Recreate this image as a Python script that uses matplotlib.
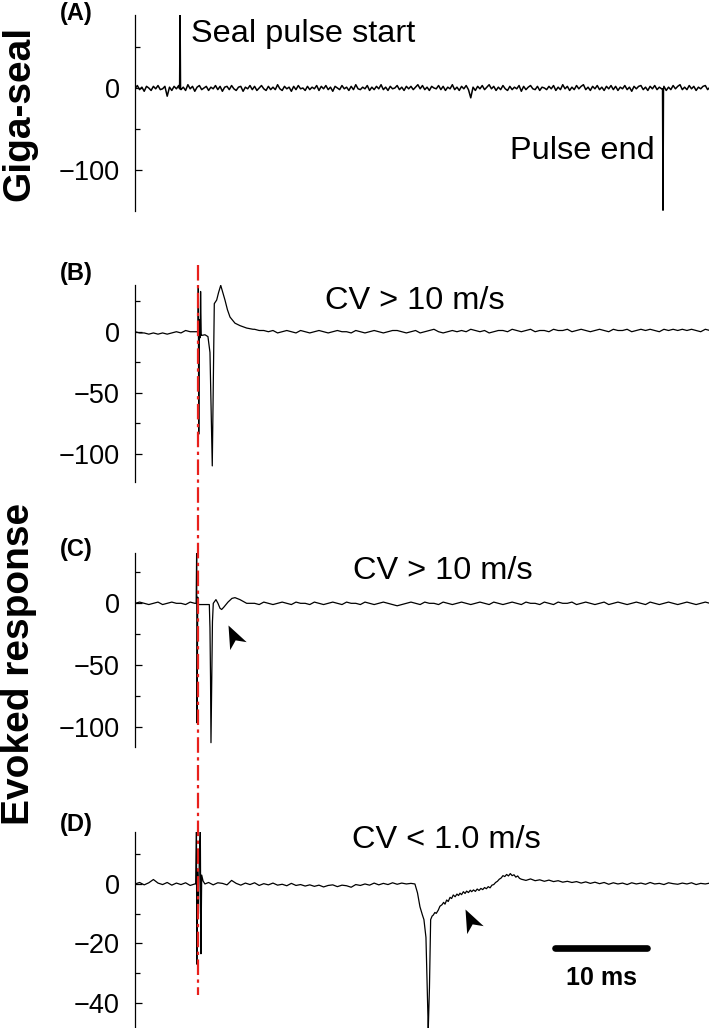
import numpy as np
import matplotlib
matplotlib.use('Agg')
import matplotlib.pyplot as plt
from matplotlib.lines import Line2D
from matplotlib.path import Path
from matplotlib.markers import MarkerStyle
from matplotlib.transforms import Affine2D, blended_transform_factory

plt.rcParams['font.family'] = ['Liberation Sans', 'DejaVu Sans']

nan = np.nan

# ---------------------------------------------------------------------
# Traces: baseline samples on a regular grid (nan = covered by event
# points) plus hand-read event points (time ms, amplitude)
# ---------------------------------------------------------------------
a_step = 0.25
a_base = [-1, 3, -2, 1, -4, 2, 0, -3, 2, -1, 3, -2, -1, 2, -10, 1, -3, 2, -1, 3,
          -2, 1, -3, 4, -1, 2, -4, 1, 3, -2, 0, 2, -3, 1, -1, 3, -2, 2, -4, 1,
          2, -2, 3, -1, -3, 1, 2, -4, 1, -1, 3, -2, 2, -3, 0, 3, -1, -3, 2, -2,
          1, -2, 4, -1, -3, 2, -1, 1, -4, 2, -2, 3, -1, 0, -3, 2, -2, 1, -1, 3,
          -3, 2, -1, 3, -2, 1, -4, 2, 0, -2, 3, -1, 1, -3, 2, -2, 4, -1, -2, 1,
          -1, 3, -3, 1, -2, 2, -1, 4, -2, 1, -3, 2, -1, 0, 3, -2, 1, -3, 2, -1,
          2, -2, 1, 4, -1, 3, -2, 1, -3, 2, 0, -1, 3, -2, 2, -3, 1, -1, 4, -2,
          1, -3, 2, -1, 3, -2, -12, 1, -3, 2, -1, 3, -2, 1, 4, -1, 2, -3, 1, -2,
          3, -1, -3, 2, -2, 1, -1, 3, -4, 2, -2, 1, 3, -1, -2, 2, -3, 1, 0, -2,
          2, -1, 3, -3, 1, -2, 4, -1, 2, -3, 1, -2, 3, -1, 2, 4, -2, 1, -3, 2,
          -1, 3, -2, 1, -3, 2, -1, 3, -2, 2, -3, 1, -1, 3, -2, 1, -4, 2, -1, 2,
          3, -2, 1, -3, 2, -1, 3, -2, 1, -1, 2, -3, 1, -2, 3, -1, 2, 4, -2, 1,
          -2, 3, -1, 2, -3, 1, -1, 2, 3, -2, 1]
a_event_t = [4.85, 4.9, 4.95, 57.35, 57.4, 57.45]
a_event_v = [-1, 89, -1, -1, -149, -1]

bcd_step = 0.5
b_base = [0, -1, -1, -2, -1, -2, -1, -2, -1, 0,
          -1, 1, 0, 0, nan, nan, nan, nan, nan, nan,
          nan, nan, nan, nan, nan, nan, 2, 1, 1, 0,
          1, -1, 0, 1, 0, -1, 1, 0, -1, 0,
          1, 0, -1, 0, 1, 0, 0, -1, 1, 0,
          -1, 0, 1, 0, -1, 0, 1, 1, 0, -1,
          0, 1, -1, 0, 1, 2, 0, -1, 0, 1,
          0, 1, 0, 2, 1, 0, 1, -1, 0, 1,
          1, 0, 2, 1, 0, 1, 2, 0, 1, 1,
          0, 2, 1, 1, 2, 0, 1, 2, 1, 0,
          1, 2, 1, 0, 2, 1, 1, 2, 0, 1,
          2, 1, 2, 1, 0, 2, 1, 2, 1, 2,
          1, 2, 1, 0, 2, 1]
b_event_t = [6.79, 6.85, 6.88, 6.93, 7.0, 7.08, 7.13, 7.2, 7.25, 7.61, 7.93,
             8.15, 8.26, 8.40, 8.51, 8.62, 8.88, 9.08, 9.32, 9.51, 9.78,
             10.05, 10.33, 10.87, 11.41, 12.14, 12.83]
b_event_v = [0, 0, 38, -84, 10, -5, 33, -3, -3, -2.5, -4,
             -17, -58, -110, -40, 23, 26, 32, 38, 33, 26,
             18, 12, 7, 5, 3, 2]

c_base = [0, 1, 0, -1, 0, 1, -1, 0, 1, 0,
          0, -1, 1, 0, nan, nan, nan, nan, nan, nan,
          nan, nan, nan, nan, nan, 0, 0, -1, 1, 0,
          -1, 0, 1, 0, -1, 1, 0, 0, -1, 1,
          0, -1, 0, 1, 0, -1, 1, 0, 0, -1,
          1, 0, -1, 0, 1, 0, -1, -2, -1, 0,
          1, 0, -1, 1, 0, 0, -1, 1, 0, -1,
          0, 1, 0, -1, 0, 1, 0, -1, 1, 0,
          -1, 0, 1, 0, -1, 1, 0, 0, -1, 1,
          0, -1, 1, 0, 0, 1, -1, 0, 1, 0,
          -1, 0, 1, -1, 0, 1, 0, -1, 0, 1,
          0, -1, 1, 0, -1, 0, 1, 0, -1, 0,
          1, 0, -1, 0, 1, 0]
c_event_t = [6.65, 6.70, 6.75, 6.82, 6.9, 8.08, 8.15, 8.21, 8.26, 8.35, 8.42,
             8.51, 8.80, 9.02, 9.24, 9.42, 9.67, 10.11, 10.54, 10.87, 11.41,
             12.14]
c_event_v = [0, 41, -97, 5, -1, -1, -20, -60, -113, -60, -15,
             0, 3, 0, -4, -5, -3, 1, 4, 4.6, 3,
             0]

d_base = [0, 0.5, -0.3, 0.4, 1.5, 0.3, -0.2, 0.5, -0.4, 0.3,
          -0.2, 0.4, -0.5, 0.0, nan, nan, 0.5, -0.3, 0.4, 0.2,
          -0.3, 1.2, 0.2, -0.4, 0.3, -0.2, 0.4, -0.5, 0.1, -0.3,
          0.3, -0.4, -0.1, -0.6, 0.2, -0.5, -0.2, -0.7, -0.3, -0.8,
          -0.4, -1.0, -0.5, -0.3, -0.9, -0.4, -0.6, -1.1, -0.2, -0.5,
          0.0, -0.4, 0.3, -0.3, 0.2, -0.2, 0.4, -0.1, 0.3, 0.0,
          0.2, nan, nan, nan, nan, nan, nan, nan, nan, nan,
          nan, nan, nan, nan, nan, nan, nan, nan, nan, nan,
          nan, nan, nan, nan, 1.6, 1.2, 1.7, 1.1, 1.4, 0.9,
          1.3, 0.8, 1.1, 0.6, 0.9, 0.5, 0.8, 0.3, 0.7, 0.2,
          0.6, 0.1, 0.5, -0.1, 0.4, 0.0, 0.3, -0.2, 0.4, 0.0,
          0.3, -0.1, 0.5, 0.0, 0.2, -0.2, 0.4, 0.1, -0.1, 0.3,
          0.0, 0.4, -0.2, 0.2, 0.0, 0.3]
d_event_t = [6.6, 6.68, 6.72, 6.8, 6.9, 7.0, 7.1, 7.17, 7.25, 7.4, 7.6,
             30.43, 30.71, 30.98, 31.25, 31.41, 31.63, 31.77, 31.88, 32.01,
             32.14, 32.3, 32.42, 32.6, 32.75, 32.97, 33.15, 33.37, 33.55,
             33.7, 33.88, 34.05, 34.25, 34.42, 34.6, 34.8, 35.0, 35.17,
             35.33, 35.5, 35.7, 35.88, 36.05, 36.25, 36.45, 36.6, 36.8,
             37.0, 37.2, 37.4, 37.6, 37.8, 38.0, 38.2, 38.4, 38.6, 38.8,
             39.0, 39.2, 39.4, 39.6, 39.8, 40.0, 40.2, 40.4, 40.6, 40.8,
             41.0, 41.2, 41.4, 41.6, 41.8]
d_event_v = [0, 18, -27, 5, -10, 10, 18, -23.5, 3, 1, 0,
             0, -3, -7.7, -10.5, -12, -18, -35, -49, -35,
             -12, -10.8, -10.5, -9.6, -9.9, -8.8, -7.5, -7.0, -6.2,
             -6.8, -5.4, -5.9, -4.5, -4.9, -3.7, -4.3, -3.4, -3.9,
             -3.1, -3.6, -2.6, -3.2, -2.4, -2.9, -2.1, -2.6, -2.0,
             -2.5, -1.7, -2.2, -1.5, -1.9, -1.2, -1.6, -0.9, -1.3, -0.4,
             -0.2, 0.5, 0.9, 1.6, 2.0, 2.8, 2.5, 3.2, 2.7, 3.5,
             2.8, 3.1, 2.3, 2.7, 1.9]

panel_labels = ['(A)', '(B)', '(C)', '(D)']
panel_notes = ['', 'CV > 10 m/s', 'CV > 10 m/s', 'CV < 1.0 m/s']
stim_time = 6.87  # ms, red dash-dot marker of stimulus


def build_trace(base, step, ev_t, ev_v):
    t = np.arange(len(base)) * step
    v = np.array(base, dtype=float)
    keep = ~np.isnan(v)
    t_all = np.concatenate([t[keep], ev_t])
    v_all = np.concatenate([v[keep], ev_v])
    order = np.argsort(t_all, kind='stable')
    return t_all[order], v_all[order]


W, H = 709, 1028


def fx(x):
    return x / W


def fy(y):
    return 1 - y / H


fig = plt.figure(figsize=(W / 100, H / 100), dpi=100)

# axes boxes in pixels: (top, bottom)
boxes = [(15, 211), (285, 482), (553, 747), (831.7, 1028)]
ylims = [(-150, 89), (-123.2, 38.3), (-116.5, 40.8), (-48.5, 17.6)]
major = [[-100, 0], [-100, -50, 0], [-100, -50, 0], [-40, -20, 0]]
minor = [[-50, 50], [-75, -25, 25], [-75, -25, 25], [-30, -10, 10]]
widths = [1.1, 0.9, 0.9, 0.9]
traces = [build_trace(a_base, a_step, a_event_t, a_event_v),
          build_trace(b_base, bcd_step, b_event_t, b_event_v),
          build_trace(c_base, bcd_step, c_event_t, c_event_v),
          build_trace(d_base, bcd_step, d_event_t, d_event_v)]

axes = []
for i in range(4):
    top, bot = boxes[i]
    ax = fig.add_axes([fx(135), fy(bot), 1 - fx(135), (bot - top) / H])
    t, v = traces[i]
    ax.plot(t, v, color='black', lw=widths[i])
    ax.set_xlim(0, 62.4)
    ax.set_ylim(*ylims[i])
    for s in ['top', 'right', 'bottom']:
        ax.spines[s].set_visible(False)
    ax.spines['left'].set_linewidth(0.9)
    ax.set_xticks([])
    ax.set_yticks(major[i])
    ax.set_yticks(minor[i], minor=True)
    ax.tick_params(axis='y', which='major', direction='in', length=5,
                   width=0.9, labelsize=19.5, pad=11)
    ax.tick_params(axis='y', which='minor', direction='in', length=3.5,
                   width=0.9)
    axes.append(ax)

# panel labels and notes
label_base = [20, 280, 556, 831]
for i in range(4):
    fig.text(fx(60), fy(label_base[i]), panel_labels[i], fontsize=17,
             fontweight='bold', va='baseline', ha='left')
note_pos = [None, (325, 309), (353, 579), (352, 848)]
for i in range(1, 4):
    x, y = note_pos[i]
    fig.text(fx(x), fy(y), panel_notes[i], fontsize=23.4, va='baseline',
             ha='left')
fig.text(fx(191), fy(42), 'Seal pulse start', fontsize=23.4, va='baseline')
fig.text(fx(655), fy(159.3), 'Pulse end', fontsize=23.4, va='baseline',
         ha='right')

fig.text(fx(19), fy(113), 'Giga-seal', fontsize=28, fontweight='bold',
         rotation=90, ha='center', va='center')
fig.text(fx(19), fy(664), 'Evoked response', fontsize=28, fontweight='bold',
         rotation=90, ha='center', va='center')

# red stimulus line spanning panels B-D
tr = blended_transform_factory(axes[3].transData, fig.transFigure)
fig.add_artist(Line2D([stim_time, stim_time], [fy(265), fy(995)],
                      transform=tr, color='#e8201c', lw=1.6,
                      linestyle=(0, (7, 2, 1.5, 2))))

# arrowheads
head = Path([(0, 0), (-1, 0.4), (-0.72, 0), (-1, -0.4), (0, 0)],
            [Path.MOVETO, Path.LINETO, Path.LINETO, Path.LINETO,
             Path.CLOSEPOLY])
arrow = MarkerStyle(head, transform=Affine2D().rotate_deg(115.7))
axes[2].plot([10.14], [-17.6], marker=arrow, ms=33, color='black',
             mec='none', clip_on=False)
axes[3].plot([35.87], [-8.5], marker=arrow, ms=33, color='black',
             mec='none', clip_on=False)

# 10 ms scale bar
axes[3].plot([45.65, 55.65], [-21.4, -21.4], color='black', lw=4.8,
             solid_capstyle='round')
fig.text(fx(601), fy(985), '10 ms', fontsize=18, fontweight='bold',
         ha='center', va='baseline')

fig.savefig('out.png', dpi=100)
